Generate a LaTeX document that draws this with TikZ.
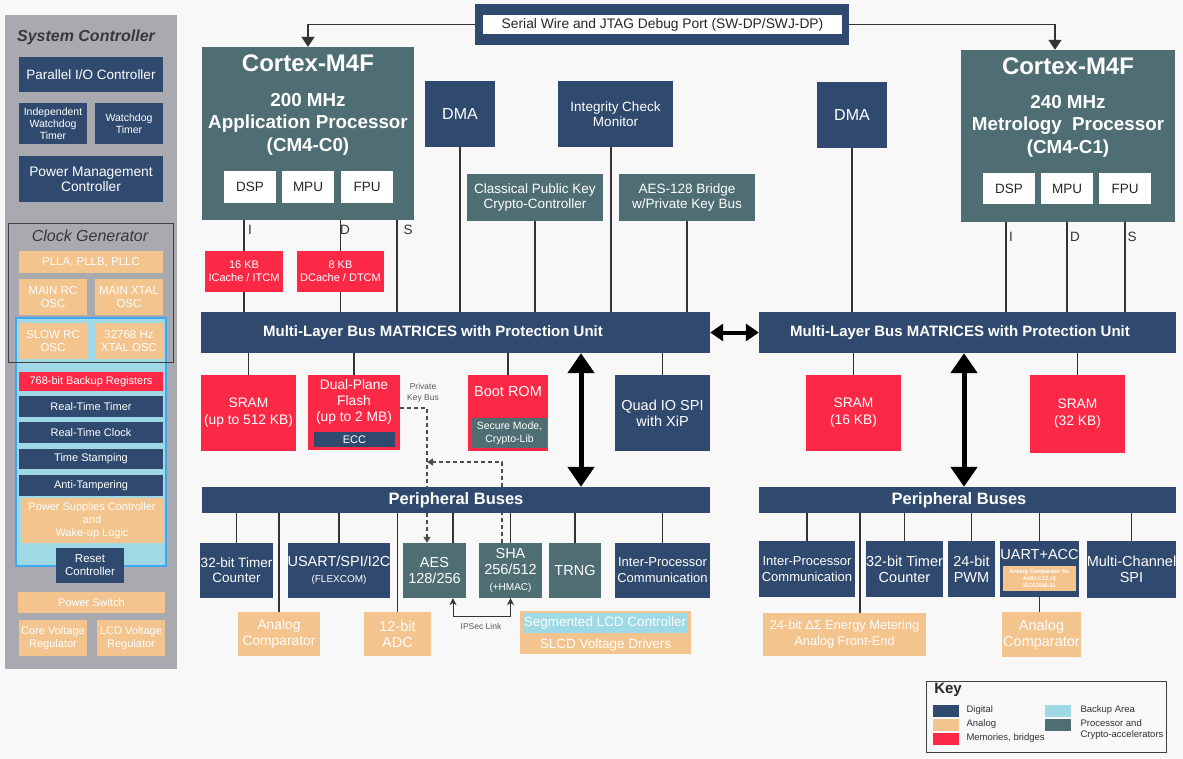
\documentclass[tikz,border=0pt]{standalone}
\usepackage{fontspec}
\setmainfont{Liberation Sans}
\usetikzlibrary{arrows.meta}
\definecolor{bgcol}{HTML}{F8F8F8}
\definecolor{digital}{HTML}{2F4A6E}
\definecolor{proc}{HTML}{4E6E74}
\definecolor{analog}{HTML}{F3C48E}
\definecolor{memory}{HTML}{FC2946}
\definecolor{backup}{HTML}{9FD9E5}
\definecolor{backupedge}{HTML}{3FA8EE}
\definecolor{panel}{HTML}{A9AAAF}
\definecolor{wire}{HTML}{333333}
\newcommand\fsz[2]{\fontsize{#1}{#2}\selectfont}

\begin{document}
\begin{tikzpicture}[x=1pt,y=-1pt,
    blk/.style={rectangle,inner sep=0pt,text=white,align=center,font=\fsz{13.5}{15}},
    digital node/.style={blk,fill=digital},
    proc node/.style={blk,fill=proc},
    analog node/.style={blk,fill=analog},
    memory node/.style={blk,fill=memory},
    white node/.style={blk,fill=white,text=black!85},
    bus node/.style={blk,fill=digital},
    bus text/.style={text=white,font=\bfseries\fsz{15}{17}},
    wire/.style={draw=wire,line width=1.6pt},
    dash arrow/.style={draw=black!70,line width=1.2pt,dash pattern=on 4pt off 3pt,-{Triangle[width=7pt,length=6pt]}},
    dash line/.style={draw=black!70,line width=1.2pt,dash pattern=on 4pt off 3pt},
    big arrow/.style={line width=5pt,{Triangle[width=26pt,length=20pt]}-{Triangle[width=26pt,length=20pt]}},
    key text/.style={font=\fsz{9.5}{11},text=black!80,anchor=west}
  ]
\fill[bgcol] (0,0) rectangle (1183,759);
\useasboundingbox (0,0) rectangle (1183,759);

% system controller column
\node[fill=panel,minimum width=172,minimum height=654] (sysc) at (91,342) {};
\node[font=\bfseries\itshape\fsz{16}{18},text=black!78] (sysct) at (86,37) {System Controller};
\node[digital node,minimum width=144,minimum height=35] (pio) at (91,74.5) {Parallel I/O Controller};
\node[digital node,minimum width=68,minimum height=41,font=\fsz{10.5}{12}] (iwdt) at (53,123.5) {Independent\\Watchdog\\Timer};
\node[digital node,minimum width=68,minimum height=41,font=\fsz{10.5}{12}] (wdt) at (129,123.5) {Watchdog\\Timer};
\node[digital node,minimum width=144,minimum height=46,font=\fsz{13.8}{15}] (pmc) at (91,179) {Power Management\\Controller};
\node[font=\itshape\fsz{16}{18},text=black!78] (clkt) at (90,236) {Clock Generator};
\node[analog node,minimum width=144,minimum height=22,font=\fsz{11.5}{13}] (pll) at (91,262) {PLLA, PLLB, PLLC};
\node[analog node,minimum width=68,minimum height=36,font=\fsz{11.5}{13}] (mainrc) at (53,297) {MAIN RC\\OSC};
\node[analog node,minimum width=68,minimum height=36,font=\fsz{11.5}{13}] (mainxtal) at (129,297) {MAIN XTAL\\OSC};
\node[fill=backup,draw=backupedge,line width=1.5pt,minimum width=150,minimum height=248] (bkup) at (91,442) {};
\node[analog node,minimum width=68,minimum height=36,font=\fsz{11.5}{13}] (slowrc) at (53,341) {SLOW RC\\OSC};
\node[analog node,minimum width=68,minimum height=36,font=\fsz{11.5}{13}] (xtal32) at (129,341) {32768 Hz\\XTAL OSC};
\node[memory node,minimum width=144,minimum height=19,font=\fsz{11}{13}] (bkpreg) at (91,381.5) {768-bit Backup Registers};
\node[digital node,minimum width=144,minimum height=21,font=\fsz{11}{13}] (rtt) at (91,406.5) {Real-Time Timer};
\node[digital node,minimum width=144,minimum height=21,font=\fsz{11}{13}] (rtc) at (91,432.5) {Real-Time Clock};
\node[digital node,minimum width=144,minimum height=20,font=\fsz{11}{13}] (tstamp) at (91,459) {Time Stamping};
\node[digital node,minimum width=144,minimum height=21,font=\fsz{11}{13}] (antitamp) at (91,485.5) {Anti-Tampering};
\node[analog node,minimum width=142,minimum height=45,font=\fsz{11}{13}] (supc) at (92,520.5) {Power Supplies Controller\\and\\Wake-up Logic};
\node[digital node,minimum width=68,minimum height=35,font=\fsz{11.5}{13}] (rstc) at (90,565.5) {Reset\\Controller};
\node[analog node,minimum width=147,minimum height=21,font=\fsz{11}{13}] (pswitch) at (91.5,602.5) {Power Switch};
\node[analog node,minimum width=68,minimum height=36,font=\fsz{11}{13}] (corereg) at (53,638) {Core Voltage\\Regulator};
\node[analog node,minimum width=68,minimum height=36,font=\fsz{11}{13}] (lcdreg) at (131,638) {LCD Voltage\\Regulator};
\node[draw=black!75,line width=1pt,minimum width=165,minimum height=138] (clkgen) at (90.5,293) {};

% debug port
\node[digital node,minimum width=374,minimum height=41] (swdbox) at (662,24.5) {};
\node[white node,minimum width=359,minimum height=19,font=\fsz{13.8}{15}] (swd) at (662.5,24.5) {Serial Wire and JTAG Debug Port (SW-DP/SWJ-DP)};

% application processor
\node[proc node,minimum width=212,minimum height=173] (cpuA) at (308,133.5) {};
\node[text=white,font=\bfseries\fsz{24}{26}] (cpuAname) at (308,63) {Cortex-M4F};
\node[text=white,font=\bfseries\fsz{18.8}{20}] (cpuAf) at (308,100) {200 MHz};
\node[text=white,font=\bfseries\fsz{18.8}{20}] (cpuArole) at (308,124) {Application Processor};
\node[text=white,font=\bfseries\fsz{18.8}{20}] (cpuAid) at (308,147) {(CM4-C0)};
\node[white node,minimum width=52,minimum height=32] (dspA) at (250,187) {DSP};
\node[white node,minimum width=52,minimum height=32] (mpuA) at (308,187) {MPU};
\node[white node,minimum width=52,minimum height=32] (fpuA) at (367,187) {FPU};
\node[memory node,minimum width=78,minimum height=41,font=\fsz{11}{13}] (icache) at (244,271.5) {16 KB\\ICache / ITCM};
\node[memory node,minimum width=87,minimum height=41,font=\fsz{11}{13}] (dcache) at (340.5,271.5) {8 KB\\DCache / DTCM};

% masters of the left matrix
\node[digital node,minimum width=70,minimum height=66,font=\fsz{16}{18}] (dmaA) at (460,114) {DMA};
\node[digital node,minimum width=115,minimum height=66] (icm) at (615.5,114) {Integrity Check\\Monitor};
\node[proc node,minimum width=136,minimum height=47] (pkcc) at (535,197.5) {Classical Public Key\\Crypto-Controller};
\node[proc node,minimum width=136,minimum height=47] (aesb) at (687,197.5) {AES-128 Bridge\\w/Private Key Bus};

% metrology processor
\node[digital node,minimum width=70,minimum height=66,font=\fsz{16}{18}] (dmaB) at (852,115) {DMA};
\node[proc node,minimum width=214,minimum height=172] (cpuB) at (1068,136) {};
\node[text=white,font=\bfseries\fsz{24}{26}] (cpuBname) at (1068,66) {Cortex-M4F};
\node[text=white,font=\bfseries\fsz{18.8}{20}] (cpuBf) at (1068,102) {240 MHz};
\node[text=white,font=\bfseries\fsz{18.8}{20}] (cpuBrole) at (1068,126) {Metrology~ Processor};
\node[text=white,font=\bfseries\fsz{18.8}{20}] (cpuBid) at (1068,149) {(CM4-C1)};
\node[white node,minimum width=52,minimum height=31] (dspB) at (1009,188.5) {DSP};
\node[white node,minimum width=52,minimum height=31] (mpuB) at (1067,188.5) {MPU};
\node[white node,minimum width=52,minimum height=31] (fpuB) at (1125,188.5) {FPU};

% bus matrices
\node[bus node,minimum width=509,minimum height=41] (busA) at (455.5,332.5) {};
\node[bus text] (busAt) at (433,333) {Multi-Layer Bus MATRICES with Protection Unit};
\node[bus node,minimum width=417,minimum height=41] (busB) at (967.5,332.5) {};
\node[bus text] (busBt) at (960,333) {Multi-Layer Bus MATRICES with Protection Unit};

% memories and slaves
\node[memory node,minimum width=95,minimum height=76,font=\fsz{13.8}{17}] (sramA) at (248.5,413) {SRAM\\(up to 512 KB)};
\node[memory node,minimum width=92,minimum height=75] (flash) at (354,412.5) {};
\node[text=white,align=center,font=\fsz{13.8}{16}] (flasht) at (354,402) {Dual-Plane\\Flash\\(up to 2 MB)};
\node[digital node,minimum width=81,minimum height=15,font=\fsz{11}{13}] (ecc) at (354.5,439.5) {ECC};
\node[align=center,text=black!65,font=\fsz{8.5}{11}] (pkbt) at (423,393) {Private\\Key Bus};
\node[memory node,minimum width=80,minimum height=76] (boot) at (508,413) {};
\node[text=white,font=\fsz{14.5}{16}] (boott) at (508,392) {Boot ROM};
\node[proc node,minimum width=75,minimum height=30,font=\fsz{10.5}{13}] (secmode) at (509.5,433) {Secure Mode,\\Crypto-Lib};
\node[digital node,minimum width=95,minimum height=76,font=\fsz{14.5}{16}] (qspi) at (662.5,413) {Quad IO SPI\\with XiP};
\node[memory node,minimum width=95,minimum height=76,font=\fsz{13.8}{17}] (sramB) at (853.5,413) {SRAM\\(16 KB)};
\node[memory node,minimum width=95,minimum height=78,font=\fsz{13.8}{17}] (sramC) at (1077.5,414) {SRAM\\(32 KB)};

% peripheral buses
\node[bus node,minimum width=508,minimum height=26] (pbusA) at (456,500) {};
\node[bus text,font=\bfseries\fsz{16.5}{18}] (pbusAt) at (456,500) {Peripheral Buses};
\node[bus node,minimum width=417,minimum height=26] (pbusB) at (967.5,500) {};
\node[bus text,font=\bfseries\fsz{16.5}{18}] (pbusBt) at (959,500) {Peripheral Buses};

% left peripherals
\node[digital node,minimum width=73,minimum height=55] (tcA) at (236.5,570.5) {32-bit Timer\\Counter};
\node[analog node,minimum width=82,minimum height=44,font=\fsz{13.8}{16}] (acmpA) at (279,634) {Analog\\Comparator};
\node[digital node,minimum width=102,minimum height=55,font=\fsz{14.5}{16}] (flexcom) at (339,570.5) {USART/SPI/I2C\\{\fsz{10}{12}(FLEXCOM)}};
\node[analog node,minimum width=67,minimum height=44,font=\fsz{14.5}{16}] (adc) at (397.5,634) {12-bit\\ADC};
\node[proc node,minimum width=63,minimum height=55,font=\fsz{14.5}{16}] (aes) at (434.5,570.5) {AES\\128/256};
\node[proc node,minimum width=63,minimum height=55,font=\fsz{14.5}{16}] (sha) at (510.5,570.5) {SHA\\256/512\\{\fsz{10}{11}(+HMAC)}};
\node[proc node,minimum width=52,minimum height=55,font=\fsz{14.5}{16}] (trng) at (575,570.5) {TRNG};
\node[digital node,minimum width=95,minimum height=55,font=\fsz{13}{16}] (ipcA) at (662.5,570.5) {Inter-Processor\\Communication};
\node[analog node,minimum width=171,minimum height=43] (slcd) at (605.5,632.5) {};
\node[blk,fill=backup,minimum width=164,minimum height=20] (seglcd) at (605,623) {Segmented LCD Controller};
\node[text=white,font=\fsz{13.5}{15}] (slcdt) at (605.5,645) {SLCD Voltage Drivers};
\node[text=black!65,font=\fsz{8.5}{10}] (ipsect) at (481,626) {IPSec Link};

% right peripherals
\node[digital node,minimum width=96,minimum height=56,font=\fsz{13}{16}] (ipcB) at (807,569) {Inter-Processor\\Communication};
\node[analog node,minimum width=163,minimum height=43,font=\fsz{12.8}{16}] (afe) at (844.5,634.5) {24-bit ΔΣ Energy Metering\\Analog Front-End};
\node[digital node,minimum width=75,minimum height=56,font=\fsz{14.5}{16}] (tcB) at (904.5,569) {32-bit Timer\\Counter};
\node[digital node,minimum width=47,minimum height=56,font=\fsz{14.5}{16}] (pwm) at (971.5,569) {24-bit\\PWM};
\node[digital node,minimum width=79,minimum height=56] (uart) at (1039.5,569) {};
\node[text=white,font=\fsz{14.5}{16}] (uartt) at (1039.5,555) {UART+ACC};
\node[analog node,minimum width=73,minimum height=25,font=\bfseries\fsz{5.5}{7}] (acc) at (1039.5,578.5) {Analog Comparator for\\ANSI-C12.18\\IEC62056-21};
\node[analog node,minimum width=79,minimum height=45,font=\fsz{14.5}{16}] (acmpB) at (1041.5,634.5) {Analog\\Comparator};
\node[digital node,minimum width=89,minimum height=57,font=\fsz{14.5}{16}] (mcspi) at (1131.5,569.5) {Multi-Channel\\SPI};

% connectors
\coordinate (sA) at (397,0);
\coordinate (icmx) at (611,0);
\coordinate (iB) at (1006,0);
\coordinate (dB) at (1067,0);
\coordinate (sB) at (1125,0);
\coordinate (dbgB) at (1055,0);
\coordinate (pkb) at (427,408);
\coordinate (shatap) at (502,462);
\coordinate (ipsec) at (453,616);
\coordinate (afex) at (860,0);
\coordinate (marrA) at (581,0);
\coordinate (marrB) at (964,0);

\draw[wire,-{Triangle[width=13pt,length=10pt]}] (swdbox.west) -| (cpuA.north);
\draw[wire,-{Triangle[width=13pt,length=10pt]}] (swdbox.east) -| (dbgB |- cpuB.north);

\draw[wire] (icache.north |- cpuA.south) -- (icache.north);
\draw[wire] (icache.south) -- (icache.south |- busA.north);
\draw[wire] (dcache.north |- cpuA.south) -- (dcache.north);
\draw[wire] (dcache.south) -- (dcache.south |- busA.north);
\draw[wire] (sA |- cpuA.south) -- (sA |- busA.north);
\draw[wire] (dmaA.south) -- (dmaA.south |- busA.north);
\draw[wire] (pkcc.south) -- (pkcc.south |- busA.north);
\draw[wire] (icmx |- icm.south) -- (icmx |- busA.north);
\draw[wire] (aesb.south) -- (aesb.south |- busA.north);
\draw[wire] (dmaB.south) -- (dmaB.south |- busB.north);
\draw[wire] (iB |- cpuB.south) -- (iB |- busB.north);
\draw[wire] (dB |- cpuB.south) -- (dB |- busB.north);
\draw[wire] (sB |- cpuB.south) -- (sB |- busB.north);
\node[font=\fsz{13.5}{15},text=wire] (lblIA) at (250,230) {I};
\node[font=\fsz{13.5}{15},text=wire] (lblDA) at (345,230) {D};
\node[font=\fsz{13.5}{15},text=wire] (lblSA) at (408,230) {S};
\node[font=\fsz{13.5}{15},text=wire] (lblIB) at (1011,237) {I};
\node[font=\fsz{13.5}{15},text=wire] (lblDB) at (1075,237) {D};
\node[font=\fsz{13.5}{15},text=wire] (lblSB) at (1132,237) {S};

\draw[wire] (busA.south -| sramA.north) -- (sramA.north);
\draw[wire] (busA.south -| flash.north) -- (flash.north);
\draw[wire] (busA.south -| boot.north) -- (boot.north);
\draw[wire] (busA.south -| qspi.north) -- (qspi.north);
\draw[wire] (busB.south -| sramB.north) -- (sramB.north);
\draw[wire] (busB.south -| sramC.north) -- (sramC.north);

\draw[line width=4pt,{Triangle[width=17pt,length=13pt]}-{Triangle[width=17pt,length=13pt]}] (busA.east) -- (busB.west);
\draw[big arrow] (marrA |- busA.south) -- (marrA |- pbusA.north);
\draw[big arrow] (marrB |- busB.south) -- (marrB |- pbusB.north);

\draw[dash line] (flash.east |- pkb) -- (pkb) -- (pkb |- pbusA.north);
\draw[dash arrow] (pkb |- pbusA.south) -- (pkb |- aes.north);
\draw[dash line] (shatap |- sha.north) -- (shatap |- pbusA.south);
\draw[dash arrow] (shatap |- pbusA.north) -- (shatap) -- (pkb |- shatap);

\draw[wire] (pbusA.south -| tcA.north) -- (tcA.north);
\draw[wire] (pbusA.south -| acmpA.north) -- (acmpA.north);
\draw[wire] (pbusA.south -| flexcom.north) -- (flexcom.north);
\draw[wire] (pbusA.south -| adc.north) -- (adc.north);
\draw[wire] (pbusA.south -| ipsec) -- (ipsec |- aes.north);
\draw[wire] (pbusA.south -| sha.north) -- (sha.north);
\draw[wire] (pbusA.south -| trng.north) -- (trng.north);
\draw[wire] (pbusA.south -| ipcA.north) -- (ipcA.north);
\draw[draw=wire,line width=1pt,{Stealth[width=7pt,length=7pt]}-{Stealth[width=7pt,length=7pt]}] (ipsec |- aes.south) -- (ipsec) -| (sha.south);

\draw[wire] (pbusB.south -| ipcB.north) -- (ipcB.north);
\draw[wire] (pbusB.south -| afex) -- (afex |- afe.north);
\draw[wire] (pbusB.south -| tcB.north) -- (tcB.north);
\draw[wire] (pbusB.south -| pwm.north) -- (pwm.north);
\draw[wire] (pbusB.south -| uart.north) -- (uart.north);
\draw[wire] (uart.south) -- (uart.south |- acmpB.north);
\draw[wire] (pbusB.south -| mcspi.north) -- (mcspi.north);

% key
\node[draw=black!75,line width=1pt,minimum width=240,minimum height=71] (key) at (1046,716.5) {};
\node[font=\bfseries\fsz{15}{17},text=black!85] (keyt) at (948,690) {Key};
\node[fill=digital,minimum width=26,minimum height=12,inner sep=0pt] (kdig) at (946,711) {};
\node[fill=analog,minimum width=26,minimum height=12,inner sep=0pt] (kana) at (946,725) {};
\node[fill=memory,minimum width=26,minimum height=12,inner sep=0pt] (kmem) at (946,739) {};
\node[fill=backup,minimum width=26,minimum height=12,inner sep=0pt] (kbkp) at (1058,711) {};
\node[fill=proc,minimum width=26,minimum height=12,inner sep=0pt] (kproc) at (1058,725) {};
\node[key text] (kdigt) at (963,710) {Digital};
\node[key text] (kanat) at (963,724) {Analog};
\node[key text] (kmemt) at (963,738) {Memories, bridges};
\node[key text] (kbkpt) at (1077,710) {Backup Area};
\node[key text,align=left] (kproct) at (1077,729.5) {Processor and\\Crypto-accelerators};
\end{tikzpicture}
\end{document}
